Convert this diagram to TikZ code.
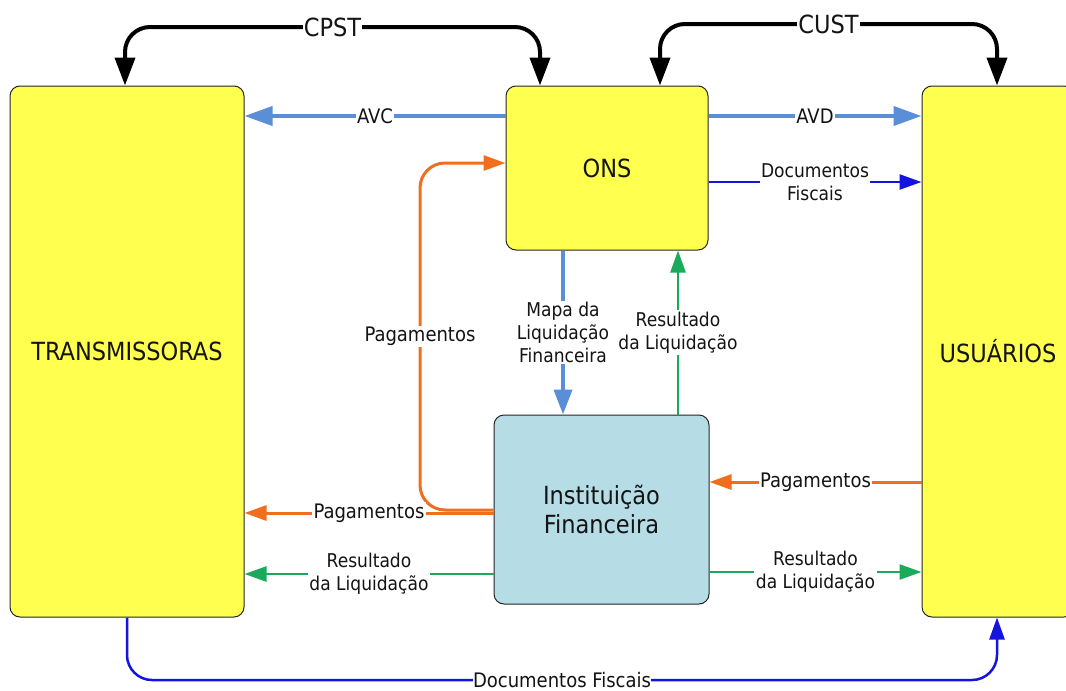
\documentclass[tikz,border=0pt]{standalone}
\usepackage{fontspec}
\setmainfont{DejaVu Sans Condensed}
\usetikzlibrary{arrows.meta}
\definecolor{boxyellow}{RGB}{255,255,80}
\definecolor{ifblue}{RGB}{182,220,230}
\definecolor{avblue}{RGB}{90,143,216}
\definecolor{orng}{RGB}{240,110,30}
\definecolor{grn}{RGB}{25,170,90}
\definecolor{dblue}{RGB}{20,20,225}
\definecolor{txt}{RGB}{20,20,20}
\tikzset{
  tipB/.tip={Triangle[length=28pt,width=20pt]},
  tipA/.tip={Triangle[length=28pt,width=19pt]},
  tipM/.tip={Triangle[length=25pt,width=18pt]},
  tipS/.tip={Triangle[length=22pt,width=15pt]},
  box/.style={draw=black!85, line width=1pt, rounded corners=10pt, inner sep=0pt,
    text=txt, font=\fontsize{25}{29}\selectfont, align=center},
  lbl/.style={fill=white, sharp corners, inner sep=1.5pt, text=txt, align=center,
    font=\fontsize{19}{23}\selectfont},
  lblm/.style={lbl, font=\fontsize{20}{23}\selectfont},
  lblb/.style={lbl, inner sep=1pt, font=\fontsize{25}{28}\selectfont},
  lbld/.style={fill=white, sharp corners, inner sep=0.5pt, text=txt,
    font=\fontsize{20}{22}\selectfont},
  blk/.style={line width=4pt, black, rounded corners=25pt, {tipB}-{tipB}},
  avb/.style={line width=4pt, avblue, -{tipA}},
  mpb/.style={line width=4pt, avblue, -{tipM}},
  org/.style={line width=3pt, orng, -{tipS}},
  gr/.style={line width=2.5pt, grn, -{tipS}},
  db/.style={line width=2.5pt, dblue, -{tipS}},
}
\begin{document}
\begin{tikzpicture}[x=1pt,y=-1pt]
\useasboundingbox (0,0) rectangle (1066,691);
% boxes
\node[box,fill=boxyellow,minimum width=234pt,minimum height=531pt] (TR) at (127,351.5) {TRANSMISSORAS};
\node[box,fill=boxyellow,minimum width=152pt,minimum height=531pt] (US) at (998,351.5) {USUÁRIOS};
\node[box,fill=boxyellow,minimum width=202pt,minimum height=164pt] (ONS) at (607,168) {ONS};
\node[box,fill=ifblue,minimum width=215pt,minimum height=189pt] (IF) at (601.5,509.5) {Instituição\\Financeira};
% CPST / CUST
\draw[blk] (TR.north -| 125,0) -- (125,27) -- node[lblb]{CPST} (540,27) -- (ONS.north -| 540,0);
\draw[blk] (ONS.north -| 660,0) -- (660,24) -- node[lblb]{CUST} (997,24) -- (US.north -| 997,0);
% AVC / AVD
\draw[avb] (ONS.west |- 0,116) -- node[lblm]{AVC} (TR.east |- 0,116);
\draw[avb] (ONS.east |- 0,116) -- node[lblm]{AVD} (US.west |- 0,116);
% Documentos Fiscais ONS -> USU
\draw[db] (ONS.east |- 0,182) -- node[lbl]{Documentos\\Fiscais} (US.west |- 0,182);
% Mapa / Resultado between ONS and IF
\draw[mpb] (ONS.south -| 563,0) -- node[lbl]{Mapa da\\Liquidação\\Financeira} (IF.north -| 563,0);
\draw[gr] (IF.north -| 678,0) -- node[lbl]{Resultado\\da Liquidação} (ONS.south -| 678,0);
% Pagamentos IF -> ONS
\draw[org, rounded corners=25pt] (IF.west |- 0,510) -- (420,510) -- node[lblm]{Pagamentos} (420,163) -- (ONS.west |- 0,163);
% Pagamentos IF -> TR
\draw[org] (IF.west |- 0,513) -- node[lblm]{Pagamentos} (TR.east |- 0,513);
% Pagamentos USU -> IF
\draw[org] (US.west |- 0,482) -- node[lblm]{Pagamentos} (IF.east |- 0,482);
% Resultado IF -> TR / USU
\draw[gr] (IF.west |- 0,574) -- node[lbl]{Resultado\\da Liquidação} (TR.east |- 0,574);
\draw[gr] (IF.east |- 0,572) -- node[lbl]{Resultado\\da Liquidação} (US.west |- 0,572);
% Documentos Fiscais TR -> USU (bottom)
\draw[db, rounded corners=25pt] (TR.south -| 127,0) -- (127,680) -- node[lbld]{Documentos Fiscais} (997,680) -- (US.south -| 997,0);
\end{tikzpicture}
\end{document}
